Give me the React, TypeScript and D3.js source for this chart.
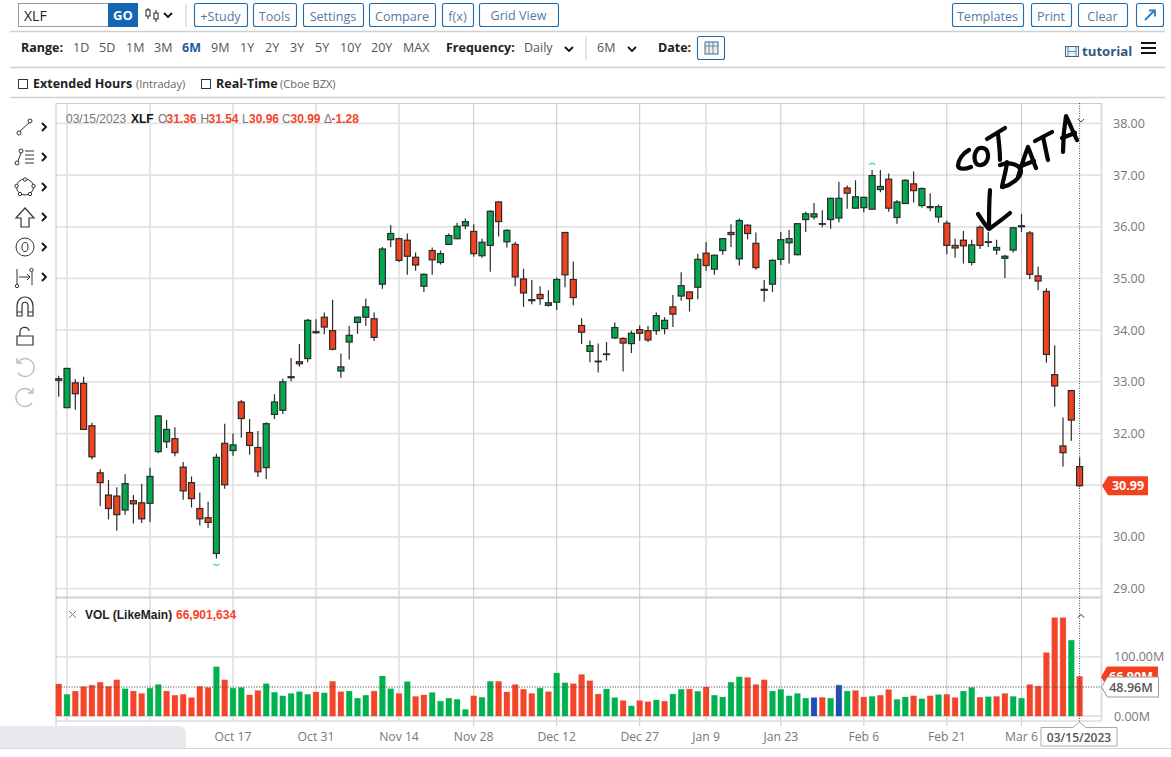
import React from "react";
import * as d3 from "d3";

const opens = [33.03,32.50,32.98,32.97,32.15,31.24,30.81,30.79,30.52,30.70,30.66,30.65,31.65,31.84,31.90,31.35,31.05,30.55,30.37,29.68,31.81,31.67,32.61,32.02,31.73,31.34,32.37,32.45,33.08,33.39,33.45,33.97,34.25,33.99,33.21,33.77,34.15,34.25,34.22,34.89,35.75,35.77,35.74,35.41,34.85,35.54,35.31,35.66,35.77,36.02,35.91,35.44,35.64,36.48,35.71,35.66,34.99,34.59,34.69,34.48,34.54,35.89,34.98,34.09,33.59,33.40,33.54,33.85,33.84,33.74,34.01,33.99,33.99,34.03,34.45,34.66,34.74,34.83,35.49,35.18,35.54,35.89,35.38,36.03,35.68,34.79,34.89,35.37,35.69,35.46,36.14,36.19,36.05,36.14,36.17,36.75,36.36,36.37,36.34,36.72,36.92,36.18,36.45,36.83,36.41,36.39,36.19,36.07,35.64,35.74,35.31,35.99,35.70,35.55,35.39,35.55,36.00,35.88,35.05,34.75,33.14,31.76,32.83,31.36];
const highs = [33.12,33.26,33.05,33.10,32.21,31.31,31.10,30.96,31.21,30.81,31.03,31.34,32.36,32.26,32.12,31.45,31.17,30.86,30.68,31.61,32.19,32.00,32.65,32.28,32.05,32.22,32.76,33.06,33.46,33.73,34.22,34.21,34.34,34.59,33.55,34.08,34.26,34.61,34.34,35.61,36.03,35.79,35.87,35.50,35.10,35.60,35.54,35.87,36.08,36.16,36.05,35.77,36.32,36.49,35.95,35.71,35.19,34.97,34.85,34.77,35.02,35.90,35.33,34.23,33.80,33.74,33.77,34.15,33.86,33.99,34.09,34.08,34.34,34.25,34.68,35.12,34.75,35.48,35.70,35.46,35.78,36.05,36.16,36.05,35.89,34.97,35.37,35.90,35.94,36.06,36.29,36.46,36.32,36.56,36.87,36.80,36.90,36.58,37.10,37.10,37.03,36.52,36.92,37.07,36.76,36.65,36.43,36.12,35.77,35.92,35.75,36.03,35.90,35.75,35.46,35.99,36.25,35.92,35.23,34.81,33.71,32.31,32.83,31.54];
const lows = [32.71,32.50,32.46,32.07,31.50,30.60,30.34,30.12,30.43,30.26,30.27,30.29,31.62,31.72,31.56,30.72,30.57,30.22,30.17,29.58,30.93,31.57,31.92,31.59,31.16,31.12,32.28,32.38,33.01,33.29,33.38,33.93,33.92,33.61,33.08,33.43,33.93,34.08,33.79,34.80,35.61,35.32,35.07,35.15,34.74,35.07,35.27,35.65,35.76,35.95,35.42,35.40,35.13,35.81,35.60,34.85,34.45,34.50,34.49,34.46,34.39,34.83,34.48,33.73,33.38,33.18,33.41,33.83,33.20,33.56,33.79,33.77,33.91,33.92,34.06,34.57,34.36,34.60,35.15,35.07,35.46,35.61,35.25,35.76,35.17,34.55,34.74,35.26,35.29,35.45,35.90,36.14,35.99,35.96,36.09,36.35,36.35,36.28,36.33,36.67,36.29,36.06,36.44,36.47,36.37,36.30,36.08,35.47,35.40,35.29,35.25,35.57,35.61,35.46,35.01,35.50,35.90,34.99,34.77,33.37,32.52,31.36,31.86,30.96];
const closes = [33.06,33.26,32.77,32.08,31.55,31.05,30.55,30.43,31.03,30.64,30.35,31.17,32.34,32.08,31.63,30.89,30.74,30.35,30.28,31.54,31.01,31.78,32.29,31.77,31.26,32.19,32.61,33.00,33.10,33.35,34.19,33.95,34.06,33.63,33.29,33.90,34.25,34.45,33.86,35.57,35.87,35.35,35.43,35.26,35.08,35.36,35.48,35.83,36.01,36.10,35.48,35.70,36.30,36.10,35.93,35.03,34.72,34.57,34.61,34.53,34.98,35.07,34.63,33.96,33.70,33.39,33.53,34.05,33.75,33.94,33.94,33.81,34.28,34.19,34.31,34.86,34.61,35.37,35.25,35.45,35.77,35.85,36.12,35.87,35.21,34.77,35.35,35.75,35.77,36.06,36.25,36.25,36.06,36.55,36.55,36.65,36.58,36.57,36.99,36.78,36.36,36.48,36.90,36.70,36.74,36.37,36.39,35.64,35.59,35.63,35.65,35.64,35.71,35.60,35.43,35.98,36.02,35.08,34.95,33.53,32.92,31.63,32.26,30.99];
const volumes = [54,36.5,42,49.5,52,57,50,61,46,42,38,47,53,42,35,36.5,31,50,48,83,61,47,48,35.5,43,54.5,40,34,38,41,36.5,40.5,39,58.5,41,42,30,35,42,67.5,46,38,58,33,35.5,39.5,25,30,28,11,34,31.5,58.5,58.5,40.5,53,45,38,47,41,72.5,56,54.5,70,59.5,37,45.5,31,26,17,26,24,27,25,37,45,45.5,41.5,49,35,32,57,66,65,53,61,42,45,34,38,30,31,31.5,30,52,42,43,32,33,35,44.5,28,32,34,29,34,36,36.5,31,42,48,31.5,32.5,33,38,33,30,53,50.5,107,166,166,128,66.9];
const volumeKinds = [
  "rgrrrrrrgr", "rggrrrrrrg", "rggrrggggg", "grgrrgggrg", "grgrrggggg", "rggrrrrrgr",
  "ggrrrrggrg", "rrgrggrgrg", "gggrrrgggg", "gbrgbgrrgr", "rggrgrgrrg", "grgrrggrrr", "rrgr",
].join("");
const avgVolume = 48.96;
const lastVolume = 66.9;
const lastClose = 30.99;
const priceTicks = [38,37,36,35,34,33,32,31,30,29];
const volumeTicks = [100,0];
const dateTicks = [
  { i: 1, label: "" }, { i: 11, label: "" }, { i: 21, label: "Oct 17" }, { i: 31, label: "Oct 31" },
  { i: 41, label: "Nov 14" }, { i: 50, label: "Nov 28" }, { i: 60, label: "Dec 12" }, { i: 70, label: "Dec 27" },
  { i: 78, label: "Jan 9" }, { i: 87, label: "Jan 23" }, { i: 97, label: "Feb 6" }, { i: 107, label: "Feb 21" }, { i: 116, label: "Mar 6" },
];
const softTicks = [1, 11, 21, 31, 41, 78];
const topButtons = [
  { t: "+Study", x: 194, w: 53 }, { t: "Tools", x: 253, w: 43 }, { t: "Settings", x: 303, w: 60 },
  { t: "Compare", x: 369, w: 66 }, { t: "f(x)", x: 442, w: 31 }, { t: "Grid View", x: 479, w: 79 },
  { t: "Templates", x: 952, w: 71 }, { t: "Print", x: 1031, w: 40 }, { t: "Clear", x: 1078, w: 49 },
];
const ranges = [
  ["1D", 73], ["5D", 99], ["1M", 126], ["3M", 154], ["6M", 182], ["9M", 211], ["1Y", 240],
  ["2Y", 265], ["3Y", 290], ["5Y", 315], ["10Y", 340], ["20Y", 371], ["MAX", 403],
] as [string, number][];

const RED = "#f2411f";
const GREEN = "#00a84f";
const sans = "'Open Sans', sans-serif";
const arial = "'Liberation Sans', Arial, sans-serif";

const x = d3.scaleLinear().domain([0, 123]).range([58.7, 1079.6]);
const y = d3.scaleLinear().domain([29, 38]).range([588.6, 123.4]);
const v = d3.scaleLinear().domain([0, 100]).range([716, 656.8]);

const L = 56, R = 1101, T = 103;

function Chevron({ cx, cy, s = 1, color = "#111", w = 1.8, up = false }: any) {
  const d = up ? -1 : 1;
  return <path d={`M${cx - 4 * s},${cy - 2 * s * d}L${cx},${cy + 2 * s * d}L${cx + 4 * s},${cy - 2 * s * d}`} fill="none" stroke={color} strokeWidth={w} />;
}
function Side({ cy }: { cy: number }) {
  return <path d={`M42,${cy - 4}L46,${cy}L42,${cy + 4}`} fill="none" stroke="#111" strokeWidth={1.8} />;
}

function Tools() {
  const s = { fill: "none", stroke: "#333", strokeWidth: 1 };
  const g = { fill: "none", stroke: "#bbb", strokeWidth: 1.3 };
  return (
    <g>
      <g {...s}>
        <line x1={20} y1={131} x2={29} y2={123} /><circle cx={19} cy={133} r={2} /><circle cx={30} cy={121} r={2} />
      </g>
      <g {...s}>
        <line x1={18} y1={161} x2={21} y2={153} /><circle cx={17} cy={163} r={2} /><circle cx={21} cy={151} r={2} />
        <path d="M25,151H34M25,155H34M25,159H34M25,163H34" />
      </g>
      <g {...s}>
        <ellipse cx={25} cy={187} rx={8.5} ry={8} />
        {[[25,179.5],[16.5,186],[33.5,186],[20,194],[30,194]].map((p, i) => <circle key={i} cx={p[0]} cy={p[1]} r={1.7} fill="#fff" />)}
      </g>
      <path d="M25,208L34,218H29V227H21V218H16Z" {...s} strokeWidth={1.2} />
      <g {...s}><circle cx={25} cy={247} r={9} /><ellipse cx={25} cy={247} rx={3} ry={4.5} /></g>
      <g {...s}>
        <path d="M17,269V284M32,272V285M19,277H30M27,274L30,277L27,280" /><circle cx={17} cy={286} r={1.7} /><circle cx={31.5} cy={270} r={1.7} />
      </g>
      <path d="M17,316V306C17,294 33,294 33,306V316H28V306C28,301 22,301 22,306V316ZM17,312H22M28,312H33" {...s} strokeWidth={1.2} />
      <path d="M17,336H33V345H17ZM20,336V332C20,326 29,326 29,331" {...s} strokeWidth={1.2} />
      <path d="M18,362A9,9 0 1 1 18,373M17,358V363H22" {...g} />
      <path d="M32,392A9,9 0 1 0 32,403M33,388V393H28" {...g} />
      {[127, 157, 187, 217, 247, 277].map((c) => <Side key={c} cy={c} />)}
    </g>
  );
}

function Handwriting() {
  const paths = [
    "M969,150C963,153 958,160 958,166C959,170 966,169 971,167",
    "M977,150C973,155 974,164 979,165C986,166 990,158 987,151C985,147 979,147 977,150Z",
    "M987,139L1005,128",
    "M998,134C999,143 1000,151 1000,160",
    "M1007,162C1006,172 1003,180 1002,187",
    "M1000,165C1010,161 1020,165 1021,171C1021,178 1011,185 1003,187",
    "M1018,177C1021,167 1024,157 1028,147C1031,154 1033,161 1036,168",
    "M1021,166L1034,161",
    "M1035,141L1052,132",
    "M1043,137C1045,145 1046,152 1048,160",
    "M1063,152C1063,140 1064,128 1066,116C1070,124 1073,132 1077,140",
    "M1062,138L1075,133",
    "M990,190C989,203 989,216 989,228",
    "M978,214C982,220 985,225 989,229C996,224 1003,219 1010,213",
  ];
  return <g fill="none" stroke="#060606" strokeWidth={4.2} strokeLinecap="round" strokeLinejoin="round">{paths.map((d, i) => <path key={i} d={d} />)}</g>;
}

export default function App() {
  const kindColor = (k: string) => (k === "r" ? "#f4442a" : k === "g" ? "#00b14f" : "#1f4fb5");
  const pane = { fontFamily: arial, fontSize: 12 };
  return (
    <svg width={1171} height={757} style={{ position: "absolute", left: 0, top: 0, display: "block", background: "#fff" }}>
      {/* header rules */}
      {[31.5, 67.5, 97.5].map((yy) => <line key={yy} x1={10} x2={1165} y1={yy} y2={yy} stroke="#d0d0d0" strokeWidth={1.3} />)}
      <line x1={186} x2={186} y1={4} y2={27} stroke="#ccc" />
      <line x1={586} x2={586} y1={36} y2={60} stroke="#ccc" />

      {/* top toolbar */}
      <rect x={18.5} y={3.5} width={90} height={23} fill="#fff" stroke="#999" />
      <text x={24} y={21} fontFamily={sans} fontSize={14} fill="#222">XLF</text>
      <rect x={108} y={3} width={30} height={24} fill="#1565b5" />
      <text x={123} y={20} textAnchor="middle" fontFamily={sans} fontSize={13} fontWeight={700} fill="#fff">GO</text>
      <g stroke="#222" fill="#fff" strokeWidth={1}>
        <line x1={148} x2={148} y1={8} y2={19} /><rect x={146} y={10} width={4} height={6} />
        <line x1={156} x2={156} y1={10} y2={22} /><rect x={154} y={13} width={4} height={6} />
      </g>
      <Chevron cx={168} cy={15} />
      {topButtons.map((b) => (
        <g key={b.t}>
          <rect x={b.x + 0.5} y={3.5} width={b.w} height={23} rx={2} fill="#fff" stroke="#1e6cb0" strokeWidth={1.1} />
          <text x={b.x + b.w / 2} y={b.t === "Grid View" ? 19.5 : 20.5} textAnchor="middle" fontFamily={sans} fontSize={12.6} fill="#5479a5">{b.t}</text>
        </g>
      ))}
      <rect x={1136.5} y={3.5} width={27} height={23} rx={2} fill="#fff" stroke="#1e6cb0" strokeWidth={1.1} />
      <path d="M1145,20L1154,11M1149,10.5H1155V16.5" fill="none" stroke="#2f7cc0" strokeWidth={1.8} />

      {/* range row */}
      <text x={21} y={52} fontFamily={sans} fontSize={12.5} fontWeight={700} fill="#222">Range:</text>
      {ranges.map(([t, xx]) => (
        <text key={t} x={xx} y={52} fontFamily={sans} fontSize={12.5} fontWeight={t === "6M" ? 700 : 400} fill={t === "6M" ? "#1f5c9e" : "#555"}>{t}</text>
      ))}
      <text x={446} y={52} fontFamily={sans} fontSize={12.5} fontWeight={700} fill="#222">Frequency:</text>
      <text x={524} y={52} fontFamily={sans} fontSize={12.5} fill="#555">Daily</text>
      <Chevron cx={569} cy={49} />
      <text x={597} y={52} fontFamily={sans} fontSize={12.5} fill="#555">6M</text>
      <Chevron cx={632} cy={49} />
      <text x={658} y={52} fontFamily={sans} fontSize={12.5} fontWeight={700} fill="#222">Date:</text>
      <rect x={697.5} y={36.5} width={27} height={23} rx={2} fill="#fff" stroke="#1e6cb0" strokeWidth={1.1} />
      <rect x={705} y={42} width={13} height={12} fill="#f6e9d8" stroke="#2a6fb0" />
      <path d="M705,46H718M709,42V54M713,42V54" stroke="#2a6fb0" strokeWidth={0.7} />
      <rect x={1065.5} y={46.5} width={13} height={10} fill="#eef3f8" stroke="#3b6b98" />
      <path d="M1068,46V57M1076,46V57M1068,51.5H1076" stroke="#3b6b98" strokeWidth={0.8} />
      <text x={1082} y={56} fontFamily={sans} fontSize={13.2} fontWeight={700} fill="#2f5a85">tutorial</text>
      <path d="M1141,43H1156M1141,48H1156M1141,53H1156" stroke="#111" strokeWidth={2.2} />

      {/* checkbox row */}
      <rect x={18.5} y={79.5} width={9} height={9} fill="#fff" stroke="#333" />
      <text x={33} y={88} fontFamily={sans} fontSize={12.5} fontWeight={700} fill="#222">Extended Hours</text>
      <text x={136} y={88} fontFamily={sans} fontSize={11} fill="#666">(Intraday)</text>
      <rect x={201.5} y={79.5} width={9} height={9} fill="#fff" stroke="#333" />
      <text x={216} y={88} fontFamily={sans} fontSize={12.5} fontWeight={700} fill="#222">Real-Time</text>
      <text x={280} y={88} fontFamily={sans} fontSize={11} fill="#666">(Cboe BZX)</text>

      <Tools />

      {/* grid */}
      {priceTicks.map((p) => <line key={p} x1={L} x2={R} y1={y(p)} y2={y(p)} stroke="#e3e3e3" strokeWidth={1.8} />)}
      {volumeTicks.map((t) => <line key={t} x1={L} x2={R} y1={v(t)} y2={v(t)} stroke="#e3e3e3" strokeWidth={1.8} />)}
      {dateTicks.map((t) => {
        const soft = softTicks.includes(t.i);
        return <line key={t.i} x1={x(t.i)} x2={x(t.i)} y1={T} y2={soft ? 721 : 726} stroke={soft ? "#e2e2e2" : "#c9c9c9"} strokeWidth={soft ? 1.8 : 1} />;
      })}
      <line x1={L} x2={R} y1={T + 0.5} y2={T + 0.5} stroke="#ccc" />
      <line x1={L} x2={R} y1={597.5} y2={597.5} stroke="#cfcfcf" strokeWidth={2} />
      <line x1={L} x2={R} y1={721} y2={721} stroke="#dcdcdc" strokeWidth={1.5} />
      <line x1={L} x2={L} y1={T} y2={726} stroke="#c4c4c4" />
      <line x1={R + 0.5} x2={R + 0.5} y1={T} y2={721} stroke="#d8d8d8" strokeWidth={1.6} />

      {/* volume */}
      {volumes.map((d, i) => {
        const c = kindColor(volumeKinds[i]);
        return <rect key={i} x={x(i) - 2.9} y={v(d)} width={5.8} height={v(0) - v(d)} fill={c} stroke={c} strokeOpacity={0.3} strokeWidth={0.8} />;
      })}

      {/* candles */}
      {opens.map((o, i) => {
        const c = closes[i];
        const up = c >= o;
        const top = y(Math.max(o, c));
        const bot = y(Math.min(o, c));
        return (
          <g key={i}>
            <line x1={x(i)} x2={x(i)} y1={y(highs[i])} y2={y(lows[i])} stroke="#2c2c2c" strokeWidth={1.2} />
            <rect x={x(i) - 3} y={top} width={6} height={Math.max(bot - top, 0.6)} fill={up ? GREEN : RED} stroke="#2a2a2a" strokeWidth={1.2} />
          </g>
        );
      })}

      {/* extreme markers */}
      <path d={`M${x(19) - 3},${y(lows[19]) + 5}Q${x(19)},${y(lows[19]) + 8.5} ${x(19) + 3},${y(lows[19]) + 5}`} fill="none" stroke="#4fcf8f" strokeWidth={1.1} />
      <path d={`M${x(98) - 3},${y(highs[98]) - 5}Q${x(98)},${y(highs[98]) - 8.5} ${x(98) + 3},${y(highs[98]) - 5}`} fill="none" stroke="#4fcf8f" strokeWidth={1.1} />

      <Handwriting />

      {/* crosshair + average */}
      <line x1={x(123)} x2={x(123)} y1={T} y2={722} stroke="#444" strokeWidth={1} strokeDasharray="1 1.5" />
      <line x1={L} x2={R} y1={v(avgVolume)} y2={v(avgVolume)} stroke="#555" strokeWidth={1} strokeDasharray="1.2 1.4" />
      <Chevron cx={1081} cy={120.5} s={0.8} color="#444" w={1} />
      <Chevron cx={1081} cy={616} s={0.8} color="#222" w={1} up />

      {/* axis labels */}
      {priceTicks.map((p) => <text key={p} x={1113} y={y(p) + 4.5} fontFamily={sans} fontSize={12.5} fill="#777">{d3.format(".2f")(p)}</text>)}
      {volumeTicks.map((t) => <text key={t} x={1114} y={v(t) + 4.5} fontFamily={sans} fontSize={12.5} fill="#777">{d3.format(".2f")(t)}M</text>)}

      {/* price tag */}
      <path d={`M1102,${y(lastClose)}L1108,${y(lastClose) - 9.5}H1148V${y(lastClose) + 9.5}H1108Z`} fill={RED} />
      <text x={1128} y={y(lastClose) + 4.5} textAnchor="middle" fontFamily={sans} fontSize={12.5} fontWeight={700} fill="#fff">{d3.format(".2f")(lastClose)}</text>

      {/* volume tags */}
      <path d={`M1101,${v(lastVolume) + 0.5}L1107,${v(lastVolume) - 10}H1158V${v(lastVolume) + 10}H1107Z`} fill={RED} />
      <text x={1131} y={v(lastVolume) + 4.5} textAnchor="middle" fontFamily={sans} fontSize={12.5} fontWeight={700} fill="#fff">{d3.format(".2f")(lastVolume)}M</text>
      <path d={`M1101.5,${v(avgVolume)}L1107.5,${v(avgVolume) - 10}H1158.5V${v(avgVolume) + 10}H1107.5Z`} fill="#fff" stroke="#999" />
      <text x={1131} y={v(avgVolume) + 4.5} textAnchor="middle" fontFamily={sans} fontSize={12.5} fontWeight={600} fill="#555">{d3.format(".2f")(avgVolume)}M</text>

      {/* legends */}
      <g {...pane} fontWeight={600}>
        <text x={66} y={123} fill="#777" fontWeight={400}>03/15/2023</text>
        <text x={131} y={123} fill="#111">XLF</text>
        <text x={158} y={123} fill="#777" fontWeight={400}>O</text>
        <text x={166.5} y={123} fill="#f4442a">{opens[123].toFixed(2)}</text>
        <text x={200.5} y={123} fill="#777" fontWeight={400}>H</text>
        <text x={208.5} y={123} fill="#f4442a">{highs[123].toFixed(2)}</text>
        <text x={242} y={123} fill="#777" fontWeight={400}>L</text>
        <text x={249} y={123} fill="#f4442a">{lows[123].toFixed(2)}</text>
        <text x={282} y={123} fill="#777" fontWeight={400}>C</text>
        <text x={290.5} y={123} fill="#f4442a">{closes[123].toFixed(2)}</text>
        <text x={324} y={123} fill="#777" fontWeight={400}>Δ</text>
        <text x={331.5} y={123} fill="#f4442a">-1.28</text>
      </g>
      <path d="M69,611L76,618M76,611L69,618" stroke="#778" strokeWidth={1} />
      <g {...pane} fontWeight={600}>
        <text x={85} y={619} fill="#222">VOL (LikeMain)</text>
        <text x={176} y={619} fill="#f4442a">66,901,634</text>
      </g>

      {/* x axis */}
      <path d="M0,726H178Q186,726 186,734V748H0Z" fill="#e8e9ec" />
      <line x1={0} x2={1171} y1={748.5} y2={748.5} stroke="#d6d6d6" />
      {dateTicks.filter((t) => t.label).map((t) => (
        <text key={t.i} x={x(t.i)} y={740.5} textAnchor="middle" fontFamily={sans} fontSize={12.2} fill="#777">{t.label}</text>
      ))}
      <path d="M1041,727.5H1073L1079.5,722L1086,727.5H1117V746H1041Z" fill="#fff" stroke="#aaa" />
      <text x={1079} y={742} textAnchor="middle" fontFamily={sans} fontSize={12} fontWeight={600} fill="#555">03/15/2023</text>
    </svg>
  );
}
